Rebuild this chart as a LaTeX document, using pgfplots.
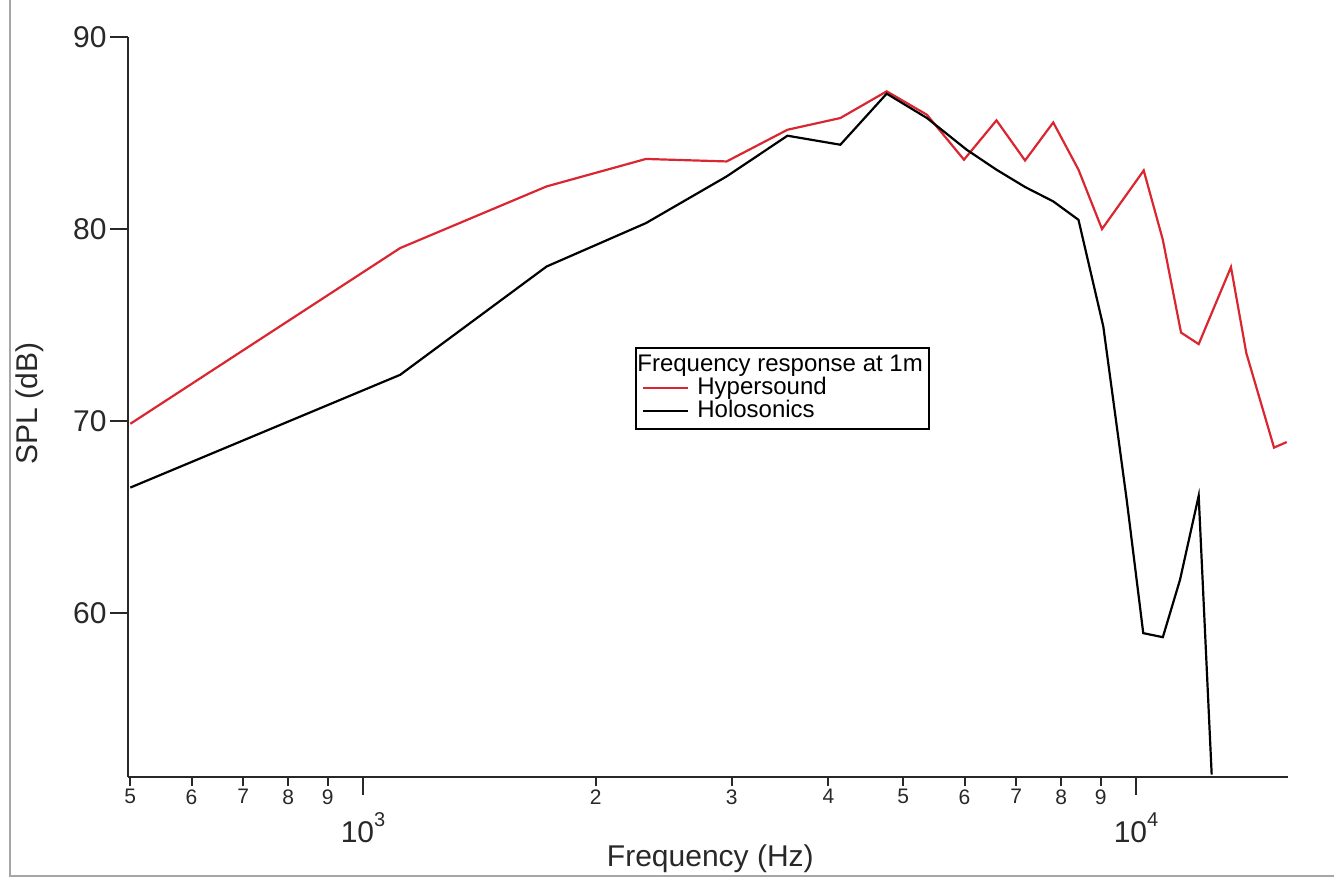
\documentclass[border=0pt]{standalone}
\usepackage{fontspec}
\setmainfont{Liberation Sans}
\usepackage{pgfplots}
\pgfplotsset{compat=1.18}
\definecolor{hyper}{RGB}{218,38,48}
\definecolor{axgray}{RGB}{40,40,40}
\begin{document}
\begin{tikzpicture}
\path[use as bounding box] (0,0) rectangle (1334bp,877bp);
\draw[line width=2bp, gray!70] (10bp,877bp) -- (10bp,1bp) -- (1334bp,1bp);
\begin{axis}[
  at={(128bp,100bp)}, anchor=south west,
  scale only axis, width=1160bp, height=740bp,
  xmode=log, xmin=496.6, xmax=15730,
  ymin=51.47, ymax=90,
  axis lines*=left,
  axis line style={line width=2.2bp, axgray},
  every tick/.style={line width=2bp, axgray},
  tick align=outside,
  xtick={1000,10000},
  xticklabels={10\raisebox{0.55em}{\fontsize{20bp}{24bp}\selectfont 3},10\raisebox{0.55em}{\fontsize{20bp}{24bp}\selectfont 4}},
  minor xtick={},
  major tick length=18bp,
  xticklabel style={font=\fontsize{30bp}{36bp}\selectfont, text=axgray, anchor=north, yshift=-14bp},
  extra x ticks={500,600,700,800,900,2000,3000,4000,5000,6000,7000,8000,9000},
  extra x tick labels={5,6,7,8,9,2,3,4,5,6,7,8,9},
  extra x tick style={major tick length=9bp, xticklabel style={font=\fontsize{21bp}{25bp}\selectfont, yshift=14bp}},
  ytick={60,70,80,90},
  yticklabel style={font=\fontsize{30bp}{36bp}\selectfont, text=axgray},
  /pgf/number format/assume math mode=true,
  xlabel={Frequency (Hz)},
  ylabel={SPL (dB)},
  xlabel style={font=\fontsize{30bp}{36bp}\selectfont, text=axgray, at={(axis description cs:0.502,-0.111)}, anchor=center},
  ylabel style={font=\fontsize{30bp}{36bp}\selectfont, text=axgray, at={(axis description cs:-0.0845,0.505)}, anchor=center},
  legend style={at={(axis description cs:0.437,0.581)}, anchor=north west,
    draw=black, line width=1.8bp, font=\fontsize{24bp}{26bp}\selectfont,
    inner sep=6bp, row sep=0bp, column sep=8bp,
    nodes={inner sep=0.5bp, text height=17bp, text depth=5bp},
    cells={anchor=west}},
  legend image code/.code={\draw[#1, line width=2bp] (0bp,0bp) -- (45bp,0bp);},
  clip=true,
]
\addlegendimage{empty legend}
\addlegendentry{\hspace{-60bp}Frequency response at 1m}
\addplot[hyper, line width=2.2bp] table {
500 69.86
1117 79.01
1728 82.22
2323 83.65
2954 83.52
3541 85.17
4145 85.78
4759 87.17
5365 85.95
5991 83.61
6600 85.66
7186 83.57
7816 85.55
8426 83.09
9037 80.00
10233 83.05
10832 79.44
11436 74.61
12053 74.01
13270 78.02
13892 73.54
15086 68.62
15668 68.91
};
\addlegendentry{Hypersound}
\addplot[black, line width=2.2bp] table {
500 66.54
1117 72.41
1728 78.05
2323 80.31
2954 82.74
3541 84.86
4145 84.39
4759 87.05
5365 85.78
6039 84.13
6600 83.09
7186 82.19
7816 81.44
8426 80.48
9072 74.93
9727 65.90
10219 58.96
10832 58.75
11400 61.73
12053 66.11
12529 51.6
};
\addlegendentry{Holosonics}
\end{axis}
\end{tikzpicture}
\end{document}
